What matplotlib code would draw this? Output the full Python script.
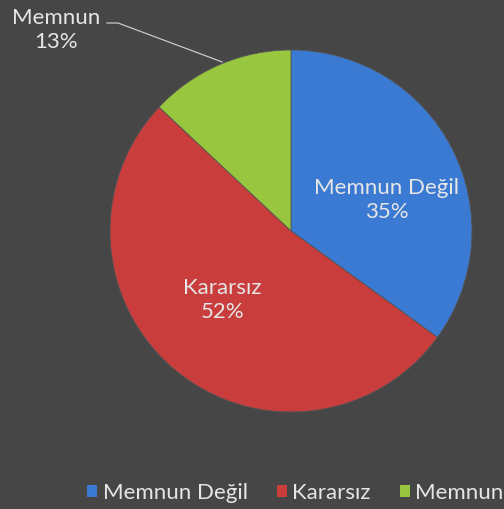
import matplotlib.pyplot as plt
from matplotlib.patches import Patch

# Pie data
labels = ["Memnun Değil", "Kararsız", "Memnun"]
values = [35, 52, 13]
colors = ["#3b7ad3", "#c93d3c", "#98c63f"]

plt.rcParams['font.family'] = ['Lato', 'DejaVu Sans']
bg = "#464646"
txt = "#e6e6e6"
fs = 16

fig = plt.figure(figsize=(5.04, 5.09), dpi=100, facecolor=bg)
ax = fig.add_axes([0, 0, 1, 1])
ax.set_facecolor(bg)

wedges, _ = ax.pie(values, colors=colors, startangle=90, counterclock=False,
                   radius=1.0, wedgeprops=dict(edgecolor="#555555", linewidth=0.6))

# axis limits chosen so the pie sits where it does in the picture
ax.set_xlim(-1.608, 1.177)
ax.set_ylim(-1.536, 1.276)
ax.set_aspect('auto')
ax.axis('off')

# labels inside the slices
ax.text(0.53, 0.17, "Memnun Değil\n35%", ha='center', va='center',
        color=txt, fontsize=fs, linespacing=1.25)
ax.text(-0.38, -0.38, "Kararsız\n52%", ha='center', va='center',
        color=txt, fontsize=fs, linespacing=1.25)

# outside label for the small slice with leader line
ax.text(-1.296, 1.11, "Memnun\n13%", ha='center', va='center',
        color=txt, fontsize=fs, linespacing=1.25)
ax.plot([-1.017, -0.956, -0.381], [1.149, 1.149, 0.934], color="#c8c8c8", lw=0.9)

handles = [Patch(facecolor=c, edgecolor='none') for c in colors]
leg = fig.legend(handles, labels, ncol=3, loc='center left',
                 bbox_to_anchor=(0.173, 0.031), frameon=False,
                 handlelength=0.45, handleheight=0.45, handletextpad=0.25,
                 columnspacing=1.3, fontsize=fs, labelcolor=txt,
                 borderaxespad=0, borderpad=0)

fig.savefig("out.png", dpi=100, facecolor=bg)
